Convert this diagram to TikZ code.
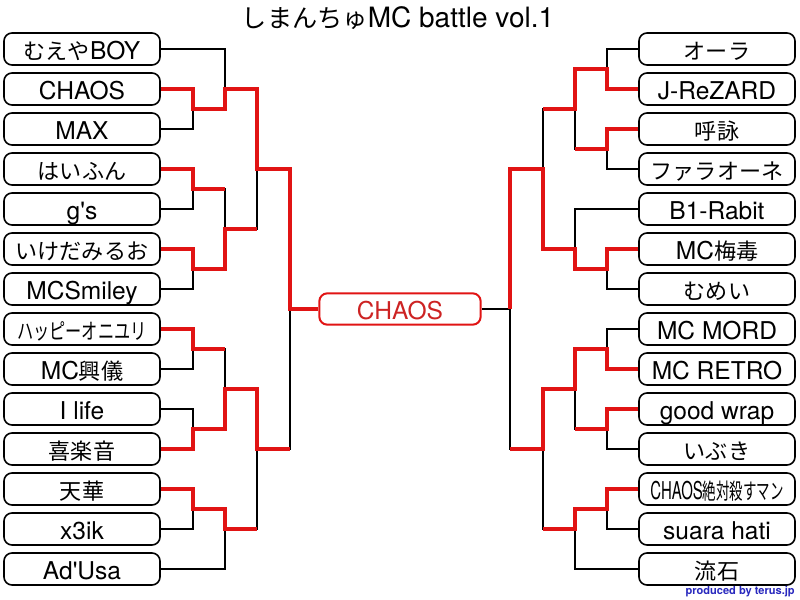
\documentclass[tikz,border=0pt]{standalone}
\usepackage{fontspec}
\usepackage{graphicx}
\newfontfamily\heros{TeX Gyre Heros}
\newfontfamily\jp{Noto Sans CJK JP}[Scale=0.9]
\definecolor{winred}{RGB}{225,20,20}
\definecolor{champred}{RGB}{205,35,35}
\definecolor{credblue}{RGB}{40,40,190}

\begin{document}
\begin{tikzpicture}[x=0.75pt,y=-0.75pt,
    player/.style={draw,line width=1.2pt,rounded corners=6pt,fill=white,
      minimum width=117pt,minimum height=24pt,inner sep=0pt,
      text height=15.2pt,text depth=0pt,
      font=\heros\fontsize{18.4}{20}\selectfont},
    lose/.style={line width=1.2pt},
    win/.style={winred,line width=3pt}]
  \fill[white] (0,0) rectangle (800,600);
  \node[font=\heros\fontsize{21}{24}\selectfont] (title) at (398,18) {{\jp しまんちゅ}MC battle vol.1};
  % players
  \foreach \name [count=\i] in {{{\jp むえや}BOY},CHAOS,MAX,{\jp はいふん},g\textquotesingle s,
      {\jp いけだみるお},MCSmiley,{\resizebox{97pt}{\height}{\jp ハッピーオニユリ}},
      {MC{\jp 興儀}},I life,{\jp 喜楽音},{\jp 天華},x3ik,Ad\textquotesingle Usa}
    \node[player] (L\i) at (82,9+40*\i) {\name};
  \foreach \name [count=\i] in {{\jp オーラ},J-ReZARD,{\jp 呼詠},{\jp ファラオーネ},B1-Rabit,
      {MC{\jp 梅毒}},{\jp むめい},MC MORD,MC RETRO,good wrap,{\jp いぶき},
      {\resizebox{100pt}{\height}{CHAOS{\jp 絶対殺すマン}}},suara hati,{\jp 流石}}
    \node[player] (R\i) at (717,9+40*\i) {\name};
  \node[player,draw=winred,text=champred,line width=1.5pt,minimum width=121pt,
    minimum height=23.5pt] (champ) at (400,309) {CHAOS};
  % match points
  \coordinate (l23) at (193,109);   \coordinate (l13) at (225,89);
  \coordinate (l45) at (193,189);   \coordinate (l67) at (193,269);
  \coordinate (l47) at (225,229);   \coordinate (l17) at (257,169);
  \coordinate (l89) at (193,349);   \coordinate (l1011) at (193,429);
  \coordinate (l811) at (225,389);  \coordinate (l1213) at (193,509);
  \coordinate (l1214) at (225,529); \coordinate (l814) at (257,449);
  \coordinate (lsemi) at (290,309);
  \coordinate (r12) at (607,69);    \coordinate (r34) at (607,149);
  \coordinate (r14) at (575,109);   \coordinate (r67) at (607,269);
  \coordinate (r57) at (575,249);   \coordinate (r17) at (543,169);
  \coordinate (r89) at (607,349);   \coordinate (r1011) at (607,429);
  \coordinate (r811) at (575,389);  \coordinate (r1213) at (607,509);
  \coordinate (r1214) at (575,529); \coordinate (r814) at (543,449);
  \coordinate (rsemi) at (510,309);
  % left side, losers then winners
  \draw[lose] (L1.east) -| (l13) (L3.east) -| (l23) (L5.east) -| (l45) (L7.east) -| (l67)
    (L9.east) -| (l89) (L10.east) -| (l1011) (L13.east) -| (l1213) (L14.east) -| (l1214)
    (l45) -| (l47) (l47) -| (l17) (l89) -| (l811) (l1214) -| (l814) (l814) -| (lsemi);
  \draw[win] (L2.east) -| (l23) -| (l13) -| (l17) -| (lsemi) -- (champ.west);
  \draw[win] (L4.east) -| (l45) -- (l45 -| l47);
  \draw[win] (L6.east) -| (l67) -| (l47) -- (l47 -| l17);
  \draw[win] (L8.east) -| (l89) -- (l89 -| l811);
  \draw[win] (L11.east) -| (l1011) -| (l811) -| (l814) -- (l814 -| lsemi);
  \draw[win] (L12.east) -| (l1213) -| (l1214) -- (l1214 -| l814);
  % right side
  \draw[lose] (R1.west) -| (r12) (R4.west) -| (r34) (R5.west) -| (r57) (R7.west) -| (r67)
    (R8.west) -| (r89) (R11.west) -| (r1011) (R13.west) -| (r1213) (R14.west) -| (r1214)
    (r34) -| (r14) (r14) -| (r17) (r1011) -| (r811) (r1214) -| (r814) (r814) -| (rsemi)
    (rsemi) -- (champ.east);
  \draw[win] (R6.west) -| (r67) -| (r57) -| (r17) -| (rsemi);
  \draw[win] (R2.west) -| (r12) -| (r14) -- (r14 -| r17);
  \draw[win] (R3.west) -| (r34) -- (r34 -| r14);
  \draw[win] (R9.west) -| (r89) -| (r811) -| (r814) -- (r814 -| rsemi);
  \draw[win] (R10.west) -| (r1011) -- (r1011 -| r811);
  \draw[win] (R12.west) -| (r1213) -| (r1214) -- (r1214 -| r814);
  \node[anchor=east,inner sep=0pt,text=credblue,font=\heros\bfseries\fontsize{8.3}{10}\selectfont]
    (credit) at (795,592) {produced by terus.jp};
\end{tikzpicture}
\end{document}
